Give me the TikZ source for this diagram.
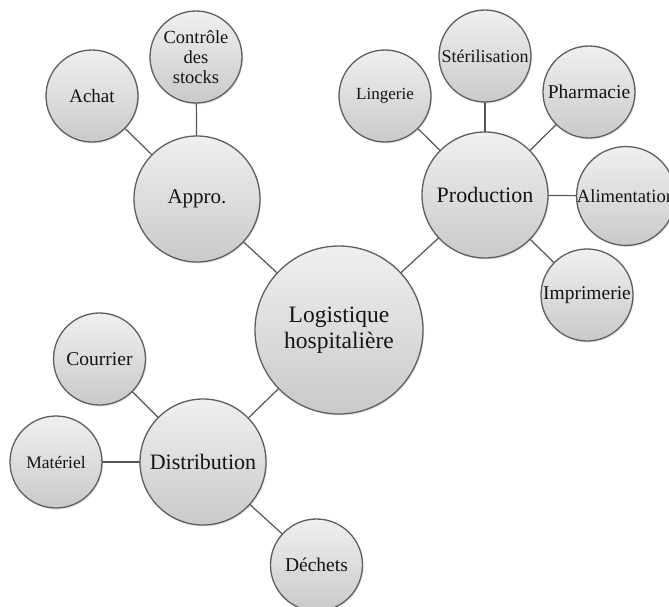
\documentclass[tikz,border=0pt]{standalone}
\usepackage{fontspec}
\setmainfont{Liberation Serif}
\usetikzlibrary{shadows}
\definecolor{rimcol}{HTML}{5E5E5E}
\definecolor{linkcol}{HTML}{555555}
\definecolor{txtcol}{HTML}{141414}
\tikzset{
  bubble/.style={circle, draw=rimcol, line width=1.3pt, inner sep=0pt,
    top color=gray!12, bottom color=gray!42, text=txtcol, align=center,
    drop shadow={opacity=0.18, shadow xshift=1.2pt, shadow yshift=-1.5pt}},
  bigbubble/.style={bubble, minimum size=168pt},
  midbubble/.style={bubble, minimum size=126pt},
  smallbubble/.style={bubble, minimum size=92pt},
  link/.style={draw=linkcol, line width=1.2pt}
}
\newcommand{\fs}[2]{\fontsize{#1}{#2}\selectfont}
\begin{document}
\begin{tikzpicture}[x=1pt,y=-1pt]
\useasboundingbox (0,0) rectangle (669,606);
\clip (0,0) rectangle (669,606);
\fill[white] (0,0) rectangle (669,606);
% centres
\coordinate (cL) at (339,330);
\coordinate (cAp) at (197,199);
\coordinate (cPr) at (485,195);
\coordinate (cDi) at (203,462);
\coordinate (cAc) at (92,96);
\coordinate (cCo) at (196,57);
\coordinate (cLi) at (385,96);
\coordinate (cSt) at (485,56);
\coordinate (cPh) at (589,92);
\coordinate (cAl) at (626,196);
\coordinate (cIm) at (587,295);
\coordinate (cCu) at (99.5,359);
\coordinate (cMa) at (56,462);
\coordinate (cDe) at (316.5,565);
% links (under the bubbles)
\draw[link] (cL) -- (cAp);
\draw[link] (cL) -- (cPr);
\draw[link] (cL) -- (cDi);
\draw[link] (cAp) -- (cAc);
\draw[link] (cAp) -- (cCo);
\draw[link] (cPr) -- (cLi);
\draw[link] (cPr) -- (cSt);
\draw[link] (cPr) -- (cPh);
\draw[link] (cPr) -- (cAl);
\draw[link] (cPr) -- (cIm);
\draw[link] (cDi) -- (cCu);
\draw[link] (cDi) -- (cMa);
\draw[link] (cDi) -- (cDe);
% bubbles
\node[bigbubble, font=\fs{23.5}{25.5}] (log) at (cL) {Logistique\\hospitalière};
\node[midbubble, font=\fs{21}{24}] (appro) at (cAp) {Appro.};
\node[midbubble, font=\fs{22}{25}] (prod) at (cPr) {Production};
\node[midbubble, font=\fs{22}{25}] (distr) at (cDi) {Distribution};
\node[smallbubble, font=\fs{19}{22}] (achat) at (cAc) {Achat};
\node[smallbubble, font=\fs{18.5}{20}] (ctrl) at (cCo) {Contrôle\\des\\stocks};
\node[smallbubble, font=\fs{17}{20}] (ling) at (cLi) {Lingerie};
\node[smallbubble, font=\fs{18}{20}] (steril) at (cSt) {Stérilisation};
\node[smallbubble, font=\fs{19.5}{22}] (pharma) at (cPh) {Pharmacie};
\node[smallbubble, font=\fs{18.6}{22}] (alim) at (cAl) {Alimentation};
\node[smallbubble, font=\fs{19.5}{22}] (impr) at (cIm) {Imprimerie};
\node[smallbubble, font=\fs{19.5}{22}] (courr) at (cCu) {Courrier};
\node[smallbubble, font=\fs{17.5}{20}] (mater) at (cMa) {Matériel};
\node[smallbubble, font=\fs{19.5}{22}] (dech) at (cDe) {Déchets};
\end{tikzpicture}
\end{document}
